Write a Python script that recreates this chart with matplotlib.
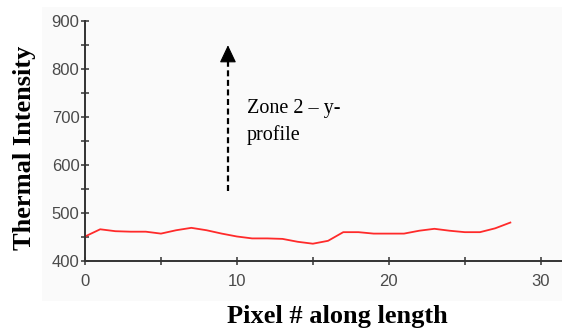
import matplotlib
matplotlib.use("Agg")
import matplotlib.pyplot as plt
from matplotlib.patches import Rectangle

# Thermal intensity profile along the y-direction of zone 2
pixel = list(range(0, 29))
intensity = [451, 466, 462, 461, 461, 457, 464, 469, 464, 457,
             451, 447, 447, 446, 440, 436, 442, 460, 460, 457,
             457, 457, 463, 467, 463, 460, 460, 468, 480]

x_major = [0, 10, 20, 30]
x_minor = [5, 15, 25]
y_major = [400, 500, 600, 700, 800, 900]
y_minor = [450, 550, 650, 750, 850]

W, H = 562, 330
fig = plt.figure(figsize=(W / 100, H / 100), dpi=100)
fig.patch.set_facecolor("white")

# pale panel behind the plot
fig.patches.append(Rectangle((42 / W, 1 - 301 / H), 1 - 42 / W, (301 - 7) / H,
                             transform=fig.transFigure, facecolor="#fafafa",
                             edgecolor="none", zorder=-5))

ax = fig.add_axes([85 / W, 1 - 261 / H, 1 - 85 / W, (261 - 20.7) / H])
ax.set_facecolor("none")
ax.set_zorder(2)

ax.plot(pixel, intensity, color="#ff2a2a", lw=1.3, solid_joinstyle="round")

ax.set_xlim(0, 31.4)
ax.set_ylim(400, 900)

for s in ("top", "right"):
    ax.spines[s].set_visible(False)
for s in ("left", "bottom"):
    ax.spines[s].set_color("#333333")
    ax.spines[s].set_linewidth(1.4)

ax.set_xticks(x_major)
ax.set_xticks(x_minor, minor=True)
ax.set_yticks(y_major)
ax.set_yticks(y_minor, minor=True)

tick_font = {"family": "Liberation Sans", "size": 12}
ax.set_xticklabels([str(v) for v in x_major], fontdict=tick_font, color="#4a4a4a")
ax.set_yticklabels([str(v) for v in y_major], fontdict=tick_font, color="#4a4a4a")
ax.tick_params(which="both", direction="inout", length=6, width=1.1, color="#333333")
ax.tick_params(axis="x", which="major", pad=6)
ax.tick_params(axis="y", which="major", pad=1)

fig.text(25 / W, 1 - 148 / H, "Thermal Intensity", rotation=90, ha="center", va="center",
         family="Liberation Serif", weight="bold", size=19)
fig.text(337 / W, 1 - 316 / H, "Pixel # along length", ha="center", va="center",
         family="Liberation Serif", weight="bold", size=19)

# dashed shaft with a solid arrowhead pointing upward
arrow_x = 9.41
ax.plot([arrow_x, arrow_x], [545, 816], color="black", lw=1.6,
        linestyle=(0, (2.7, 1.6)), dash_capstyle="butt")
ax.annotate("", xy=(arrow_x, 849), xytext=(arrow_x, 817),
            arrowprops=dict(arrowstyle="-|>,head_length=1.1,head_width=0.52",
                            mutation_scale=10, color="black", lw=0.8,
                            shrinkA=0, shrinkB=0))

ax.text(10.66, 708, "Zone 2 \u2013 y-", family="Liberation Serif", size=14.5,
        ha="left", va="baseline")
ax.text(10.66, 651, "profile", family="Liberation Serif", size=14.5,
        ha="left", va="baseline")

fig.savefig("out.png", dpi=100)
